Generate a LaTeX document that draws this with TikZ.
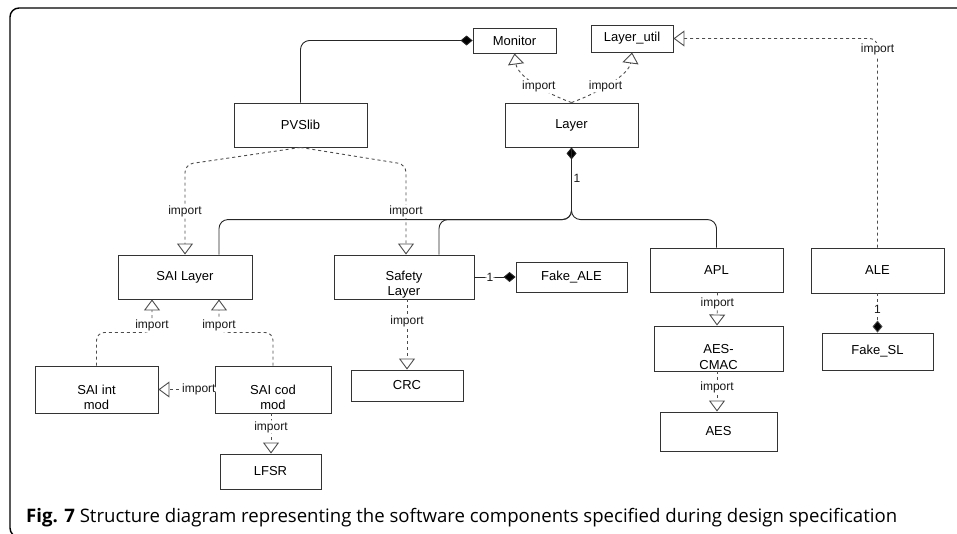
\documentclass[tikz,border=0pt]{standalone}
\usepackage{fontspec}
\setmainfont{Liberation Sans}
\newfontfamily\capfont{Open Sans}
\usetikzlibrary{arrows.meta,calc}

\tikzset{
  dia/.tip={Diamond[length=12pt,width=10pt,fill=black]},
  box/.style={draw=black!80, line width=0.9pt, fill=white, inner sep=0pt,
    font=\fontsize{13}{15.5}\selectfont, align=center, text=black},
  boxtext/.style={font=\fontsize{13}{15.5}\selectfont, align=center, inner sep=0pt, text=black},
  lbl/.style={fill=white, inner sep=1pt, font=\fontsize{12}{12}\selectfont, text=black!90},
  imp/.style={draw=black!70, line width=0.9pt, dash pattern=on 3pt off 3pt,
    -{Triangle[open,width=16pt,length=11pt,fill=white]}, rounded corners=8pt},
  comp/.style={draw=black!85, line width=0.9pt, rounded corners=9pt}
}

\begin{document}
\begin{tikzpicture}[x=1pt,y=-1pt]
\useasboundingbox (0,0) rectangle (957,533);

% outer frame
\draw[line width=1.4pt, rounded corners=9pt] (975,8) -- (10,8) -- (10,537) -- (975,537);

% components
\node[box, minimum width=83pt, minimum height=25pt] (mon) at (514.5,40.5) {Monitor};
\node[box, minimum width=82pt, minimum height=27pt] (lutil) at (632,38.5) {Layer\_util};
\node[box, minimum width=133pt, minimum height=44pt] (layer) at (571.5,125) {Layer};
\node[box, minimum width=133pt, minimum height=44pt] (pvs) at (300.5,125) {PVSlib};
\node[box, minimum width=134pt, minimum height=44pt] (sail) at (185,277) {SAI Layer};
\node[box, minimum width=140pt, minimum height=44pt] (safe) at (404,277) {};
\node[boxtext] (safetxt) at (404,284.5) {Safety\\Layer};
\node[box, minimum width=111pt, minimum height=30pt] (fale) at (571.5,277) {Fake\_ALE};
\node[box, minimum width=133pt, minimum height=44pt] (apl) at (716.5,270) {APL};
\node[box, minimum width=133pt, minimum height=45pt] (ale) at (877.5,270.5) {ALE};
\node[box, minimum width=129pt, minimum height=45pt] (cmac) at (718.5,348.5) {};
\node[boxtext] (cmactxt) at (718.5,357) {AES-\\CMAC};
\node[box, minimum width=117pt, minimum height=39pt] (aes) at (718.5,431.5) {AES};
\node[box, minimum width=111pt, minimum height=37pt] (fsl) at (877.5,351.5) {Fake\_SL};
\node[box, minimum width=123pt, minimum height=47pt] (saint) at (96.5,389.5) {};
\node[boxtext] (sainttxt) at (96.5,397.5) {SAI int\\mod};
\node[box, minimum width=116pt, minimum height=47pt] (sacod) at (273,389.5) {};
\node[boxtext] (sacodtxt) at (273,397.5) {SAI cod\\mod};
\node[box, minimum width=112pt, minimum height=31pt] (crc) at (407,385.5) {CRC};
\node[box, minimum width=101pt, minimum height=35pt] (lfsr) at (270.5,471.5) {LFSR};

% composition links
\draw[comp, -dia] (pvs.north) |- (mon.west);
\draw[comp, dia-] (layer.south) |- ($(sail.north)+(34,-35)$) -- ($(sail.north)+(34,0)$);
\draw[comp] (layer.south) |- ($(safe.north)+(35,-35)$) -- ($(safe.north)+(35,0)$);
\draw[comp] (layer.south) |- ($(apl.north)+(0,-28)$) -- (apl.north);
\node[lbl, fill=none] (one) at (577,178) {1};
\draw[comp, -dia] (safe.east) -- node[lbl, pos=0.38] {1} (fale.west);
\draw[imp, -dia] (ale.south) -- node[lbl, pos=0.4] {1} (fsl.north);

% import links
\draw[imp] (layer.north) .. controls +(-28,-10) and +(3,22) .. node[lbl, pos=0.42] {import} (mon.south);
\draw[imp] (layer.north) .. controls +(28,-10) and +(-3,22) .. node[lbl, pos=0.42] {import} (lutil.south);
\draw[imp] (ale.north) |- node[lbl, pos=0.473] {import} (lutil.east);
\draw[imp] (pvs.south) -- ($(pvs.south -| sail.north)+(0,17)$) -- node[lbl, pos=0.52] {import} (sail.north);
\draw[imp] (pvs.south) -- ($(pvs.south -| safe.north)+(2,17)$) -- node[lbl, pos=0.52] {import} ($(safe.north)+(2,0)$);
\draw[imp] (saint.north) |- ($(sail.south)+(-33,33)$) -- node[lbl, pos=0.21] {import} ($(sail.south)+(-33,0)$);
\draw[imp] (sacod.north) |- ($(sail.south)+(34,33)$) -- node[lbl, pos=0.21] {import} ($(sail.south)+(34,0)$);
\draw[imp] (sacod.west) -- node[lbl, pos=0.28] {import} (saint.east);
\draw[imp] ($(sacod.south)+(-2,0)$) -- node[lbl, pos=0.34] {import} ($(lfsr.north)+(0.5,0)$);
\draw[imp] ($(safe.south)+(3,0)$) -- node[lbl, pos=0.32] {import} (crc.north);
\draw[imp] ($(apl.south)+(1,0)$) -- node[lbl, pos=0.32] {import} ($(cmac.north)+(-1.5,0)$);
\draw[imp] ($(cmac.south)+(-1.5,0)$) -- node[lbl, pos=0.39] {import} ($(aes.north)+(-1.5,0)$);

% caption
\node[anchor=base west, inner sep=0pt, font=\capfont\fontsize{18.6}{18.6}\selectfont] (cap) at (26,522)
  {\textbf{Fig. 7} Structure diagram representing the software components specified during design specification};
\end{tikzpicture}
\end{document}
